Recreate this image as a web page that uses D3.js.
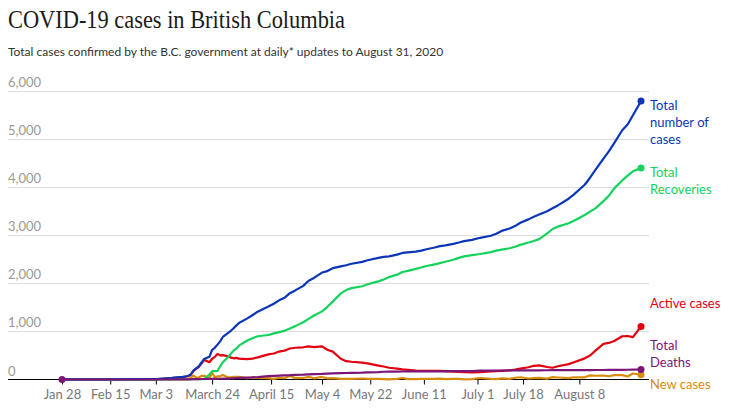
<!DOCTYPE html>
<html><head><meta charset="utf-8">
<script src="https://cdn.jsdelivr.net/npm/d3@7"></script>
<style>
body{margin:0;background:#fff;}
svg{display:block;}
</style></head>
<body><svg id="c" width="741" height="413"></svg>
<script>
const dates = ["2020-01-28","2020-02-04","2020-02-14","2020-02-21","2020-02-28","2020-03-03","2020-03-06","2020-03-09","2020-03-11","2020-03-13","2020-03-15","2020-03-16","2020-03-17","2020-03-18","2020-03-19","2020-03-20","2020-03-21","2020-03-23","2020-03-24","2020-03-25","2020-03-26","2020-03-27","2020-03-28","2020-03-30","2020-03-31","2020-04-01","2020-04-02","2020-04-03","2020-04-06","2020-04-08","2020-04-10","2020-04-14","2020-04-16","2020-04-18","2020-04-20","2020-04-22","2020-04-24","2020-04-27","2020-04-29","2020-05-01","2020-05-04","2020-05-06","2020-05-08","2020-05-11","2020-05-13","2020-05-15","2020-05-19","2020-05-21","2020-05-25","2020-05-27","2020-05-29","2020-06-01","2020-06-03","2020-06-05","2020-06-08","2020-06-10","2020-06-12","2020-06-15","2020-06-17","2020-06-19","2020-06-22","2020-06-24","2020-06-26","2020-06-29","2020-07-02","2020-07-06","2020-07-08","2020-07-10","2020-07-13","2020-07-15","2020-07-17","2020-07-20","2020-07-22","2020-07-24","2020-07-27","2020-07-29","2020-07-31","2020-08-04","2020-08-06","2020-08-10","2020-08-12","2020-08-14","2020-08-17","2020-08-19","2020-08-21","2020-08-24","2020-08-26","2020-08-28","2020-08-31"];

const totalCases = [1,2,4,6,7,9,21,32,46,53,73,103,186,231,271,348,424,472,617,659,725,792,884,970,1013,1066,1121,1174,1266,1336,1410,1517,1575,1647,1699,1795,1853,1948,2053,2112,2224,2255,2315,2353,2376,2407,2446,2479,2530,2550,2562,2597,2632,2645,2659,2680,2709,2745,2775,2790,2822,2849,2879,2904,2947,2990,3030,3090,3140,3190,3260,3330,3385,3430,3500,3560,3620,3760,3850,4050,4196,4358,4594,4745,4915,5184,5304,5496,5790];

const recoveries = [0,0,0,3,4,4,4,4,5,5,5,5,5,5,5,5,6,100,173,175,178,275,360,469,535,600,641,704,805,858,900,925,960,985,1012,1060,1110,1190,1260,1330,1417,1512,1620,1790,1860,1900,1940,1980,2040,2080,2130,2180,2235,2260,2300,2330,2360,2395,2420,2450,2490,2530,2560,2585,2610,2650,2680,2700,2730,2760,2800,2850,2880,2920,3040,3130,3180,3250,3300,3420,3490,3560,3710,3820,3975,4140,4240,4330,4400];

const activeCases = [1,2,4,3,3,5,17,27,40,47,67,94,174,219,258,333,408,359,431,470,533,501,507,482,454,441,449,435,422,435,460,523,540,581,600,645,660,670,688,675,690,619,580,431,381,369,350,335,290,270,245,225,210,200,185,180,178,180,178,175,165,158,152,148,155,170,175,180,190,205,225,255,285,295,260,245,275,320,360,440,500,600,740,760,800,900,905,880,1104];

const totalDeaths = [0,0,0,0,0,0,0,1,1,1,1,4,7,7,8,10,10,13,13,14,14,16,17,19,24,25,31,35,39,43,50,69,75,81,87,90,98,100,105,111,117,124,129,132,135,138,141,149,155,161,164,165,166,167,167,168,168,168,168,169,173,174,174,174,183,186,187,187,189,189,189,189,190,191,192,194,195,195,195,196,196,198,198,200,200,202,203,205,208];

const newCases = [1,1,1,1,1,1,8,5,7,7,9,30,83,45,40,77,76,24,145,42,66,67,92,43,43,53,55,53,29,45,34,27,14,36,26,71,29,32,55,25,53,23,27,12,16,15,21,12,11,9,4,12,31,9,7,11,15,12,19,7,11,14,1,8,31,12,9,25,14,36,47,21,27,33,19,50,42,30,47,46,85,78,79,68,90,90,63,124,98];

const yTicks = [0,1000,2000,3000,4000,5000,6000];
const xTickDates = ["2020-01-28","2020-02-15","2020-03-03","2020-03-24","2020-04-15","2020-05-04","2020-05-22","2020-06-11","2020-07-01","2020-07-18","2020-08-08"];
const xTickLabels = ["Jan 28","Feb 15","Mar 3","March 24","April 15","May 4","May 22","June 11","July 1","July 18","August 8"];

const seriesNames = ["New cases","Active cases","Total Recoveries","Total number of cases","Total Deaths"];
const seriesColors = ["#d88c0c","#e3000f","#13d35c","#0b36b8","#7b1677"];
const seriesLabelLines = [["New cases"],["Active cases"],["Total","Recoveries"],["Total","number of","cases"],["Total","Deaths"]];
const labelBaselines = [389,308,177,110,350];
const seriesData = [newCases, activeCases, recoveries, totalCases, totalDeaths];

const parse = d3.timeParse("%Y-%m-%d");
const D = dates.map(parse);
const svg = d3.select("#c");
const mLeft = 8, mRight = 649, mTop = 91, mBottom = 379.5;

const x = d3.scaleTime().domain([parse("2020-01-28"), parse("2020-08-31")]).range([62, 641]);
const y = d3.scaleLinear().domain([0, 6000]).range([mBottom, mTop]);

svg.append("text").attr("x",8).attr("y",28)
  .attr("font-family","'Liberation Serif', serif").attr("font-size",25)
  .attr("fill","#1a1a1a").attr("textLength",337).attr("lengthAdjust","spacingAndGlyphs")
  .text("COVID-19 cases in British Columbia");
svg.append("text").attr("x",8).attr("y",56)
  .attr("font-family","Lato, sans-serif").attr("font-size",12).attr("fill","#333")
  .text("Total cases confirmed by the B.C. government at daily* updates to August 31, 2020");

// grid
const g = svg.append("g");
g.selectAll("line.grid").data(yTicks.filter(d=>d>0)).join("line")
  .attr("x1",mLeft).attr("x2",mRight).attr("y1",d=>Math.round(y(d))+0.5).attr("y2",d=>Math.round(y(d))+0.5)
  .attr("stroke","#dcdcdc").attr("stroke-width",1);
g.selectAll("text.yl").data(yTicks).join("text")
  .attr("x",mLeft).attr("y",d=>y(d)-4)
  .attr("font-family","Lato, sans-serif").attr("font-size",13).attr("fill","#999")
  .text(d=>d3.format(",")(d));

// x axis
const xAxis = d3.axisBottom(x).tickValues(xTickDates.map(parse))
  .tickFormat((d,i)=>xTickLabels[i]).tickSize(5).tickSizeOuter(0);
const ax = svg.append("g").attr("transform",`translate(0,${mBottom})`).call(xAxis);
ax.select(".domain").remove();
ax.selectAll("text").attr("font-family","Lato, sans-serif").attr("font-size",13).attr("fill","#777").attr("dy","0.9em");
ax.selectAll("line").attr("stroke","#000");
svg.append("line").attr("x1",mLeft).attr("x2",mRight).attr("y1",mBottom).attr("y2",mBottom).attr("stroke","#000").attr("stroke-width",1.2);

// lines
const line = d3.line().x((d,i)=>x(D[i])).y(d=>y(d));
seriesData.forEach((s,k)=>{
  svg.append("path").datum(s).attr("d",line).attr("fill","none")
    .attr("stroke",seriesColors[k]).attr("stroke-width",2.2).attr("stroke-linejoin","round");
});
seriesData.forEach((s,k)=>{
  svg.append("circle").attr("cx",x(D[D.length-1])).attr("cy",y(s[s.length-1])).attr("r",3.5).attr("fill",seriesColors[k]);
});
svg.append("circle").attr("cx",x(D[0])).attr("cy",y(totalDeaths[0])).attr("r",3.5).attr("fill",seriesColors[4]);

// labels
seriesLabelLines.forEach((lines,k)=>{
  const t = svg.append("text").attr("x",650).attr("y",labelBaselines[k])
    .attr("font-family","Lato, sans-serif").attr("font-size",13).attr("fill",seriesColors[k]);
  lines.forEach((l,j)=>t.append("tspan").attr("x",650).attr("dy",j?17:0).text(l));
});
</script></body></html>
